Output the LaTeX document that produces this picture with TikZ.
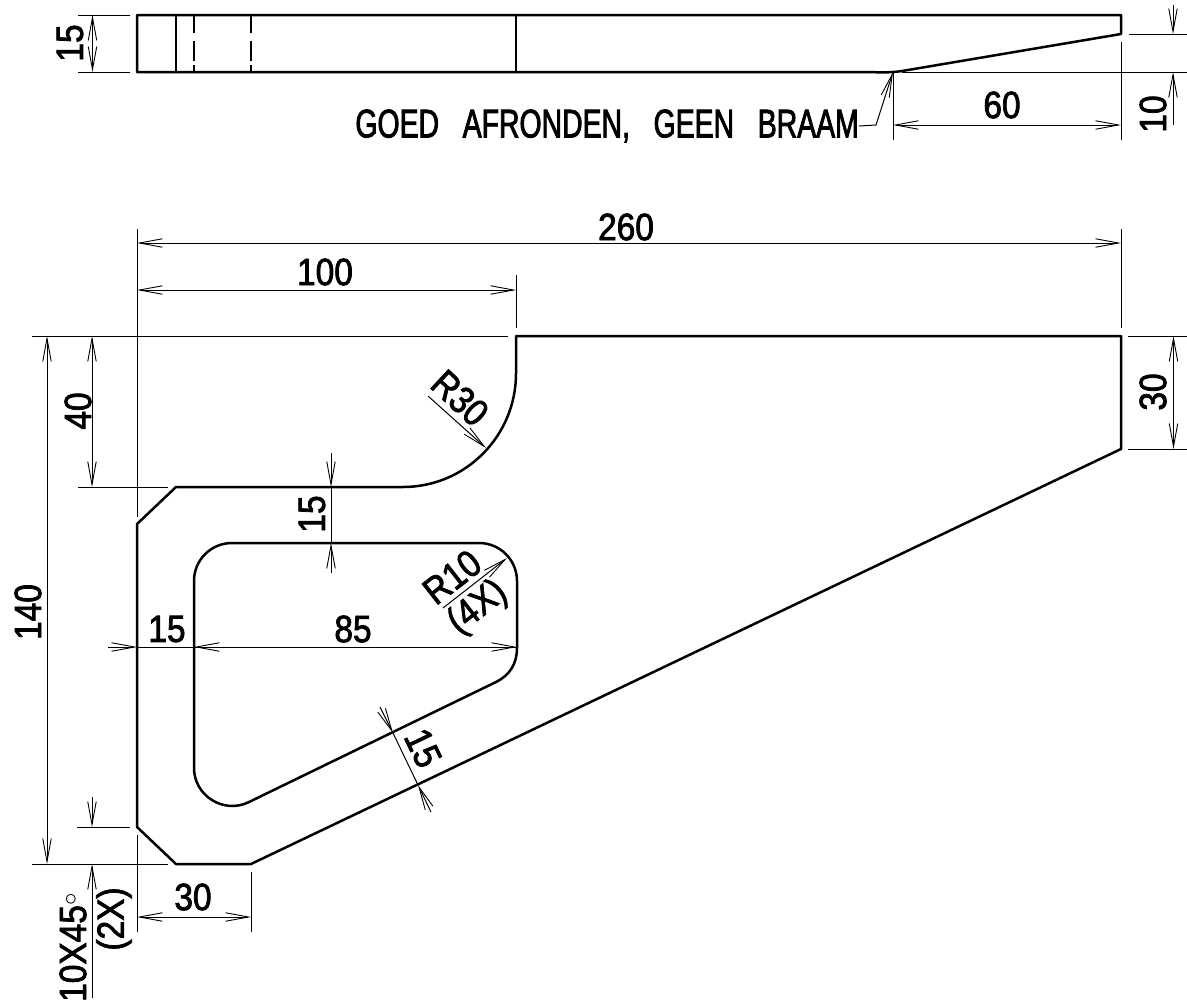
\documentclass[tikz,border=0pt]{standalone}
\usepackage{fontspec}
\usepackage{tikz}
\usetikzlibrary{arrows.meta}
\setmainfont[FakeStretch=0.88,FakeBold=2]{Liberation Sans}
\newfontfamily\notefont[FakeStretch=0.71,FakeBold=2,WordSpace=3]{Liberation Sans}

\begin{document}
\begin{tikzpicture}[
    x=1pt,
    y=-1pt,
    >={Straight Barb[length=23pt,width=8.5pt,line width=.9pt]},
    partline/.style={line width=2.5pt, line join=round},
    extline/.style={line width=1pt},
    hiddenline/.style={line width=1.1pt, dash pattern=on 18pt off 8pt on 20pt off 4pt},
    dimtext/.style={font=\fontsize{38}{38}\selectfont, inner sep=0pt}
]
    \useasboundingbox (0,0) rectangle (1187,1002);

    % Side view
    \draw[partline] (137,15) -- (1121,15) -- (1121,34) -- (905,70.5)
        to[out=190,in=0] (862,72) -- (137,72) -- cycle;
    \draw[partline] (176,15) -- (176,72);
    \draw[partline] (516,15) -- (516,72);
    \draw[hiddenline] (194,15) -- (194,72);
    \draw[hiddenline] (251,15) -- (251,72);

    % Front view
    \draw[partline] (516,336) -- (1121,336) -- (1121,449) -- (251,864) -- (176,864)
        -- (137,827) -- (137,524) -- (176,487) -- (403,487)
        to[out=0,in=-90] (516,373.5) -- cycle;
    \draw[partline] (232,543) -- (479,543) to[out=0,in=90] (517,581) -- (517,648)
        to[out=-90,in=25.5] (495.4,682.3) -- (248.4,802.3)
        to[out=205.5,in=-90,looseness=1.1] (194,768) -- (194,581)
        to[out=90,in=180] (232,543) -- cycle;

    % Extension lines
    \draw[extline] (78,15) -- (130,15);
    \draw[extline] (78,72) -- (130,72);
    \draw[extline] (1129,34) -- (1187,34);
    \draw[extline] (902,72) -- (1187,72);
    \draw[extline] (1121,42) -- (1121,140);
    \draw[extline] (893,72) -- (893,140);
    \draw[extline] (137,229) -- (137,517);
    \draw[extline] (1121,229) -- (1121,328);
    \draw[extline] (516,275) -- (516,328);
    \draw[extline] (32,336) -- (508,336);
    \draw[extline] (1128,336) -- (1187,336);
    \draw[extline] (1128,449) -- (1187,449);
    \draw[extline] (78,487) -- (168,487);
    \draw[extline] (77,827) -- (130,827);
    \draw[extline] (32,864) -- (168,864);
    \draw[extline] (137,835) -- (137,932);
    \draw[extline] (251,872) -- (251,932);

    % Dimension lines
    \path[extline]
        (92.5,15) edge[<->] (92.5,72)
        (1173,5) edge[->] (1173,34)
        (1173,125) edge[->] (1173,72)
        (893,125) edge[<->] (1121,125)
        (137,243) edge[<->] (1121,243)
        (137,290) edge[<->] (516,290)
        (47,336) edge[<->] (47,864)
        (92,336) edge[<->] (92,487)
        (1173.5,336) edge[<->] (1173.5,449)
        (92,797) edge[->] (92,827)
        (92,998) edge[->] (92,864)
        (137,917) edge[<->] (251,917)
        (331,453) edge[->] (331,487)
        (331,573) edge[->] (331,543)
        (331,487) edge (331,543)
        (108,647) edge[->] (137,647)
        (137,647) edge (194,647)
        (517,647) edge[->] (194,647)
        (194,647) edge[->] (517,647)
        (428,396) edge[->] (486,448)
        (443,608) edge[->] (507,558)
        (380,707) edge[->] (393,733)
        (431,812) edge[->] (418,785)
        (393,733) edge (418,785);

    % Labels
    \node[dimtext, rotate=90] (side15) at (70,43) {15};
    \node[dimtext, rotate=90] (side10) at (1153,114) {10};
    \node[dimtext] (side60) at (1002,105) {60};
    \node[dimtext, anchor=east, font=\fontsize{40}{40}\notefont] (braam) at (859,126) {GOED AFRONDEN, GEEN BRAAM};
    \node[dimtext] (len260) at (626,227) {260};
    \node[dimtext] (len100) at (325,272) {100};
    \node[dimtext, rotate=90] (hgt140) at (28,612) {140};
    \node[dimtext, rotate=90] (hgt40) at (78,411) {40};
    \node[dimtext, rotate=90] (hgt30) at (1153,392) {30};
    \node[dimtext, rotate=-43] (rad30) at (460,398) {R30};
    \node[dimtext, rotate=90] (web15) at (312,514) {15};
    \node[dimtext, rotate=38] (rad10) at (452,577) {R10};
    \node[dimtext, rotate=38] (rad4x) at (478,608) {(4X)};
    \node[dimtext] (wall15) at (167,629) {15};
    \node[dimtext] (hole85) at (353,629) {85};
    \node[dimtext, rotate=-64.5] (slant15) at (423,748) {15};
    \node[dimtext] (len30) at (193,897) {30};
    \node[dimtext, rotate=90, anchor=west] (chamfer) at (73,1002) {10X45$^{\circ}$};
    \node[dimtext, rotate=90] (chamfer2x) at (114,919) {(2X)};

    % Leader to the rounded edge
    \coordinate (burr) at (893,72);
    \draw[extline,->] (braam.east) -- (876,125) -- (burr);
\end{tikzpicture}
\end{document}
